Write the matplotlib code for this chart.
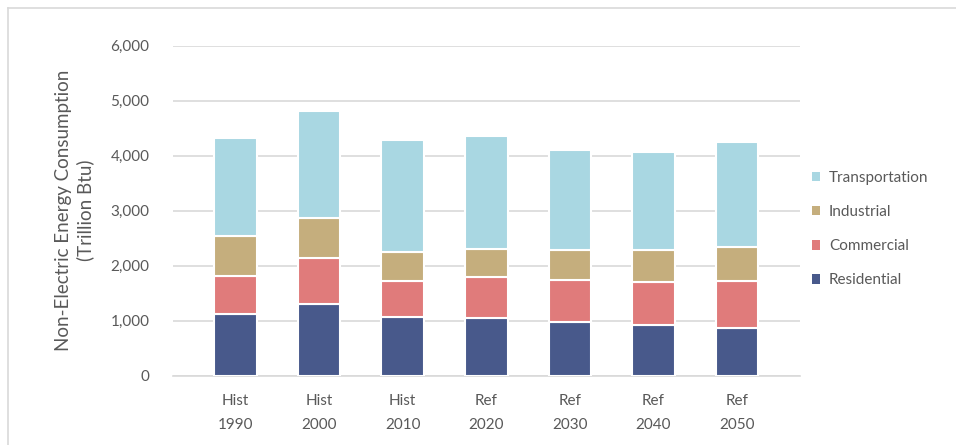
import matplotlib
matplotlib.use("Agg")
import matplotlib.pyplot as plt
from matplotlib.patches import Patch
from matplotlib.lines import Line2D
import numpy as np

plt.rcParams['font.family'] = ['Lato', 'DejaVu Sans']

categories = ["Hist\n1990", "Hist\n2000", "Hist\n2010", "Ref\n2020", "Ref\n2030", "Ref\n2040", "Ref\n2050"]
residential = [1120, 1310, 1065, 1050, 980, 925, 870]
commercial = [700, 830, 655, 750, 765, 775, 855]
industrial = [720, 730, 525, 510, 545, 590, 620]
transportation = [1790, 1950, 2045, 2055, 1820, 1780, 1910]

series = [("Residential", residential, "#48598B"),
          ("Commercial", commercial, "#E07B7B"),
          ("Industrial", industrial, "#C5AE7D"),
          ("Transportation", transportation, "#A9D7E2")]

W, H = 956, 445
fig = plt.figure(figsize=(W / 100, H / 100), dpi=100)
ax = fig.add_axes([173 / W, (H - 375.7) / H, (800 - 173) / W, (375.7 - 45.7) / H])

text_col = "#595959"
grid_col = "#D9D9D9"

x = np.arange(len(categories))
bottom = np.zeros(len(categories))
for name, vals, col in series:
    v = np.array(vals, dtype=float)
    ax.bar(x, v, bottom=bottom, width=0.51, color=col, edgecolor="white",
           linewidth=1.5, label=name, zorder=3)
    bottom += v

ax.set_ylim(0, 6000)
ax.set_xlim(-0.748, 6.754)
ax.set_yticks(np.arange(0, 6001, 1000))
ax.set_yticklabels([f"{v:,}" for v in range(0, 6001, 1000)])
ax.set_xticks(x)
ax.set_xticklabels(categories, linespacing=1.9)
ax.yaxis.grid(True, color=grid_col, linewidth=1.2, zorder=0)
ax.set_axisbelow(True)
for s in ["top", "right", "left"]:
    ax.spines[s].set_visible(False)
ax.spines["bottom"].set_color(grid_col)
ax.spines["bottom"].set_linewidth(1.2)
ax.tick_params(axis="both", length=0, colors=text_col, labelsize=11)
ax.tick_params(axis="y", pad=17)
ax.tick_params(axis="x", pad=13)

ax.set_ylabel("Non-Electric Energy Consumption\n(Trillion Btu)", fontsize=13.5,
              color=text_col, labelpad=12, linespacing=1.25)

handles = [Patch(facecolor=c, edgecolor="none", label=n) for n, _, c in reversed(series)]
fig.legend(handles=handles, loc="upper left", bbox_to_anchor=(812 / W, 1 - 171 / H),
           frameon=False, fontsize=11, labelcolor=text_col,
           handlelength=0.55, handleheight=0.55, handletextpad=0.55,
           labelspacing=1.32, borderaxespad=0, borderpad=0)

# chart frame (left and top edges visible)
fig.add_artist(Line2D([8 / W, 8 / W], [0, 1 - 7.5 / H], transform=fig.transFigure,
                      color=grid_col, linewidth=1.2))
fig.add_artist(Line2D([8 / W, 1], [1 - 7.5 / H, 1 - 7.5 / H], transform=fig.transFigure,
                      color=grid_col, linewidth=1.2))

fig.savefig("out.png", dpi=100, facecolor="white")
